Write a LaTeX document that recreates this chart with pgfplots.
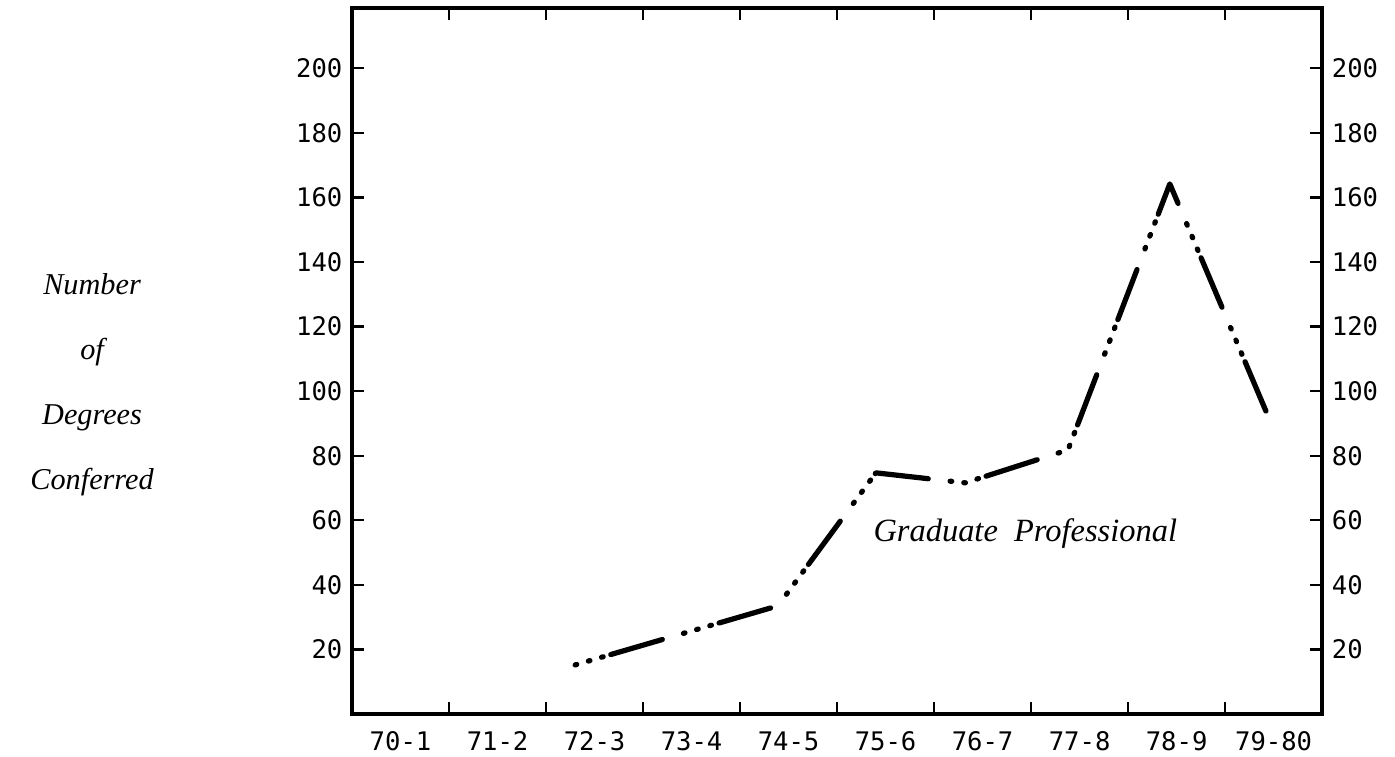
\documentclass[border=0pt]{standalone}
\usepackage{fontspec}
\setmainfont{DejaVu Sans Mono}
\newfontfamily\labelfont{Liberation Serif}
\usepackage{pgfplots}
\pgfplotsset{compat=1.18}
\usepackage{pgfplotstable}
\usetikzlibrary{calc}

% Graduate Professional degrees
\pgfplotstableread{
x y
1.80 15.2
3.89 33.5
4.90 74.7
5.82 71.6
6.88 81.8
7.93 164.2
8.99 88.9
}\gradprof

\pgfplotsset{
  base/.style={
    width=352.7pt, height=256.7pt, scale only axis,
    xmin=-0.5, xmax=9.5, ymin=0, ymax=218.7,
    ytick={20,40,...,200},
    /pgf/number format/assume math mode=true,
    every tick label/.append style={font=\fontsize{9.3}{11}\selectfont},
  },
}

\begin{document}
\begin{tikzpicture}
\begin{axis}[
  base,
  axis line style={line width=1.2pt},
  xtick={0,...,9},
  xticklabels={70-1,71-2,72-3,73-4,74-5,75-6,76-7,77-8,78-9,79-80},
  minor xtick={0.5,1.5,...,8.5},
  major x tick style={draw=none},
  tick align=inside, xtick pos=both, ytick pos=both,
  xticklabel pos=lower, yticklabel pos=left,
  tick style={line width=0.8pt, black},
  major tick length=4.4pt, minor tick length=4.4pt,
  xticklabel style={yshift=-3pt},
  ylabel={Number\\of\\Degrees\\Conferred},
  ylabel style={rotate=-90, align=center,
    font=\labelfont\itshape\fontsize{11}{23.6}\selectfont,
    at={(axis description cs:-0.268,0.466)}, anchor=center},
]
\addplot[black, line width=1.9pt, line cap=round, line join=round,
  dash pattern=on 0.6pt off 4.4pt on 0.6pt off 4.4pt on 0.6pt off 2.9pt on 19.5pt off 8pt]
  table[x=x, y=y] {\gradprof};
\node[font=\labelfont\itshape\fontsize{11.8}{14}\selectfont, anchor=center]
  at (axis cs:6.44,56) {Graduate\ \ Professional};
\end{axis}
\begin{axis}[
  base,
  hide x axis,
  axis y line*=right,
  y axis line style={draw=none},
  major y tick style={draw=none},
  yticklabel pos=right,
]
\end{axis}
\pgfresetboundingbox
\path ($(current axis.south west)+(-128pt,-15.6pt)$) rectangle ($(current axis.north east)+(26.5pt,2.9pt)$);
\end{tikzpicture}
\end{document}
